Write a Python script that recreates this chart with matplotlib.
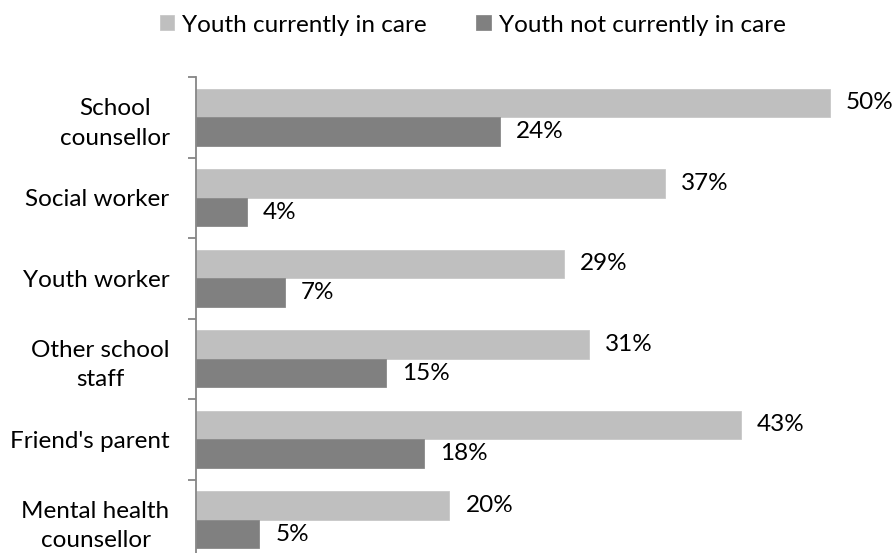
import matplotlib
matplotlib.use("Agg")
import matplotlib.pyplot as plt
import numpy as np

categories = ["School\ncounsellor", "Social worker", "Youth worker",
              "Other school\nstaff", "Friend's parent", "Mental health\ncounsellor"]
in_care = [50, 37, 29, 31, 43, 20]
not_in_care = [24, 4, 7, 15, 18, 5]
series_names = ["Youth currently in care", "Youth not currently in care"]
colors = ["#BFBFBF", "#808080"]

plt.rcParams['font.family'] = ['Lato', 'DejaVu Sans']
FS = 17.5

fig = plt.figure(figsize=(8.96, 5.53), dpi=100)
W, H = 896, 553
top_px, bot_px = 77, 560
left_px, right_px = 196, 893
ax = fig.add_axes([left_px / W, 1 - bot_px / H, (right_px - left_px) / W, (bot_px - top_px) / H])

n = len(categories)
y = np.arange(n)
h = 0.357
b1 = ax.barh(y - h / 2, in_care, height=h, color=colors[0], edgecolor="#C8C8C8", linewidth=0.6, label=series_names[0])
b2 = ax.barh(y + h / 2, not_in_care, height=h, color=colors[1], edgecolor="#8A8A8A", linewidth=0.6, label=series_names[1])

ax.set_xlim(0, 55)
ax.set_ylim(n - 0.5, -0.5)

for bars, vals in ((b1, in_care), (b2, not_in_care)):
    for rect, v in zip(bars, vals):
        ax.annotate(f"{v}%", (v, rect.get_y() + rect.get_height() / 2),
                    xytext=(16, 0), textcoords="offset pixels",
                    ha="left", va="center", fontsize=FS, color="#000000")

for s in ["top", "right", "bottom"]:
    ax.spines[s].set_visible(False)
ax.spines["left"].set_color("#868686")
ax.spines["left"].set_linewidth(1.3)
ax.set_xticks([])
ax.set_yticks(np.arange(n + 1) - 0.5)
ax.set_yticklabels([])
ax.tick_params(axis="y", direction="out", length=6, width=1.3, color="#868686")
ax.set_yticks(y, minor=True)
ax.set_yticklabels(categories, minor=True, fontsize=FS, ha="right", multialignment="center", linespacing=1.5)
ax.tick_params(axis="y", which="minor", length=0, pad=19)

fig.legend(handles=[b1, b2], labels=series_names, loc="center", bbox_to_anchor=(472.5 / W, 1 - 25 / H),
           ncol=2, frameon=False, fontsize=FS, handlelength=0.58, handleheight=0.58,
           handletextpad=0.33, columnspacing=2.06, borderpad=0)

fig.savefig("out.png", dpi=100)
